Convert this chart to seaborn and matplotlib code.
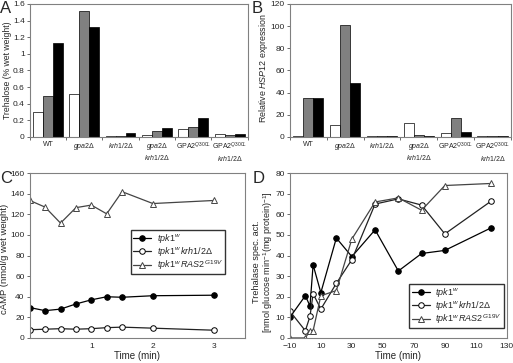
import numpy as np
import pandas as pd
import matplotlib
matplotlib.use("Agg")
import matplotlib.pyplot as plt
import seaborn as sns
from matplotlib.ticker import FuncFormatter, FixedLocator

sns.set_theme(style="white")
plt.rcParams['font.family'] = ['Liberation Sans', 'DejaVu Sans']
plt.rcParams['mathtext.fontset'] = 'custom'
plt.rcParams['mathtext.rm'] = 'Liberation Sans'
plt.rcParams['mathtext.it'] = 'Liberation Sans:italic'
plt.rcParams['mathtext.bf'] = 'Liberation Sans:bold'

# === Data ===
strains = ['WT', r'$\mathit{gpa2}\Delta$', r'$\mathit{krh1/2}\Delta$',
           r'$\mathit{gpa2}\Delta$' + '\n' + r'$\mathit{krh1/2}\Delta$',
           r'GPA2$^{Q300L}$',
           r'GPA2$^{Q300L}$' + '\n' + r'$\mathit{krh1/2}\Delta$']
conditions = ['c1', 'c2', 'c3']

trehalose_c1 = [0.30, 0.52, 0.012, 0.025, 0.10, 0.03]
trehalose_c2 = [0.49, 1.51, 0.015, 0.072, 0.115, 0.02]
trehalose_c3 = [1.13, 1.32, 0.048, 0.11, 0.23, 0.04]

hsp12_c1 = [1.2, 11.1, 1.2, 12.6, 3.3, 1.2]
hsp12_c2 = [35.4, 101.0, 1.2, 1.5, 16.8, 0.6]
hsp12_c3 = [34.8, 48.6, 0.9, 0.9, 4.8, 0.6]

camp_time = [0, 0.25, 0.5, 0.75, 1, 1.25, 1.5, 2, 3]
camp_tpk1w = [29.5, 26.5, 28, 33, 37, 40, 39.5, 41, 41.5]
camp_krh = [8, 8.5, 9, 8.5, 9, 10, 10.5, 9.5, 7.5]
camp_ras2 = [133.5, 127, 111.5, 126.5, 129, 120.5, 142, 130.5, 133.5]

tre_time = [-10, 0, 3, 5, 10, 20, 30, 45, 60, 75, 90, 120]
tre_tpk1w = [10, 20.5, 15.5, 35.5, 22, 48.5, 39.5, 52.5, 32.5, 41, 42.5, 53.5]
tre_krh = [13, 3.5, 10.5, 21.5, 14, 26.5, 38, 65, 67.5, 64.5, 50.5, 66.5]
tre_ras2 = [0, 0, 3.5, 3.5, 20.5, 23, 48, 66, 68, 62, 74, 75]

series_labels = [r'$\mathit{tpk1}^{w}$',
                 r'$\mathit{tpk1}^{w}\,\mathit{krh1/2}\Delta$',
                 r'$\mathit{tpk1}^{w}\,\mathit{RAS2}^{\,G19V}$']

bar_colors = ['white', '#808080', 'black']


def long_bars(v1, v2, v3):
    rows = []
    for vals, cond in zip([v1, v2, v3], conditions):
        for s, v in zip(strains, vals):
            rows.append({'strain': s, 'cond': cond, 'value': v})
    return pd.DataFrame(rows)


fig = plt.figure(figsize=(5.13, 3.63), dpi=100)
axA = fig.add_axes([0.058, 0.623, 0.425, 0.366])
axB = fig.add_axes([0.565, 0.623, 0.431, 0.366])
axC = fig.add_axes([0.058, 0.069, 0.420, 0.454])
axD = fig.add_axes([0.565, 0.069, 0.423, 0.454])

tick_fs = 6


def style_box(ax):
    for sp in ax.spines.values():
        sp.set_visible(True)
        sp.set_color('#808080')
        sp.set_linewidth(0.8)
    ax.tick_params(axis='both', labelsize=tick_fs, length=2.5, width=0.6,
                   color='#555555', pad=1.2, direction='out')
    ax.tick_params(axis='y', left=True)


def bar_panel(ax, df, ylim, yticks, ylabel, label_fs):
    sns.barplot(data=df, x='strain', y='value', hue='cond', palette=bar_colors,
                edgecolor='black', linewidth=0.5, width=0.82, gap=0,
                legend=False, ax=ax)
    ax.set_xlim(-0.5, 5.5)
    ax.set_ylim(*ylim)
    ax.set_yticks(yticks)
    ax.yaxis.set_major_formatter(FuncFormatter(lambda v, p: f'{v:g}'))
    ax.set_xlabel('')
    ax.set_ylabel(ylabel, fontsize=label_fs)
    style_box(ax)
    ax.tick_params(axis='x', length=0, labelsize=5, pad=3)
    ax.xaxis.set_minor_locator(FixedLocator(np.arange(-0.5, 6, 1)))
    ax.tick_params(axis='x', which='minor', bottom=True, length=2.5,
                   width=0.6, color='#555555')


bar_panel(axA, long_bars(trehalose_c1, trehalose_c2, trehalose_c3),
          (0, 1.6), np.arange(0, 1.61, 0.2), 'Trehalose (% wet weight)', 6.2)
bar_panel(axB, long_bars(hsp12_c1, hsp12_c2, hsp12_c3),
          (0, 120), np.arange(0, 121, 20), r'Relative $\mathit{HSP12}$ expression', 6.4)
axA.yaxis.set_label_coords(-0.082, 0.5)
axB.yaxis.set_label_coords(-0.092, 0.52)

markers = [dict(marker='o', markerfacecolor='black', markeredgecolor='black'),
           dict(marker='o', markerfacecolor='white', markeredgecolor='black'),
           dict(marker='^', markerfacecolor='white', markeredgecolor='#444444')]
line_colors = ['black', '#222222', '#444444']


def line_panel(ax, t, ys):
    for y, lab, mk, lc in zip(ys, series_labels, markers, line_colors):
        sns.lineplot(x=t, y=y, ax=ax, color=lc, linewidth=0.9, markersize=4,
                     markeredgewidth=0.7, label=lab, **mk)
    style_box(ax)


leg_kw = dict(fontsize=6.5, frameon=True, fancybox=False, edgecolor='#333333',
              framealpha=1, borderpad=0.25, handlelength=2.0, labelspacing=0.0,
              handletextpad=0.6, borderaxespad=0)

line_panel(axC, camp_time, [camp_tpk1w, camp_krh, camp_ras2])
axC.set_xlim(0, 3.5)
axC.set_ylim(0, 160)
axC.set_xticks([1, 2, 3])
axC.set_yticks(np.arange(0, 161, 20))
axC.set_xlabel('Time (min)', fontsize=7, labelpad=1)
axC.set_ylabel('cAMP (nmol/g wet weight)', fontsize=6.8)
axC.yaxis.set_label_coords(-0.097, 0.48)
axC.legend(loc='upper left', bbox_to_anchor=(0.47, 0.655), **leg_kw)

line_panel(axD, tre_time, [tre_tpk1w, tre_krh, tre_ras2])
axD.set_xlim(-10, 130)
axD.set_ylim(0, 80)
axD.set_xticks(np.arange(-10, 131, 20))
axD.set_yticks(np.arange(0, 81, 10))
axD.set_xlabel('Time (min)', fontsize=7, labelpad=1)
axD.set_ylabel('Trehalase spec. act.\n' +
               r'[nmol glucose min$^{-1}$(mg protein)$^{-1}$]',
               fontsize=6.6, linespacing=1.0)
axD.yaxis.set_label_coords(-0.07, 0.46)
axD.legend(loc='lower right', bbox_to_anchor=(0.985, 0.06), **leg_kw)

for txt, x, y in [('A', 0.0, 0.998), ('B', 0.49, 0.998),
                  ('C', 0.0, 0.53), ('D', 0.492, 0.53)]:
    fig.text(x, y, txt, fontsize=12, va='top', ha='left')

fig.savefig('out.png', dpi=100)
